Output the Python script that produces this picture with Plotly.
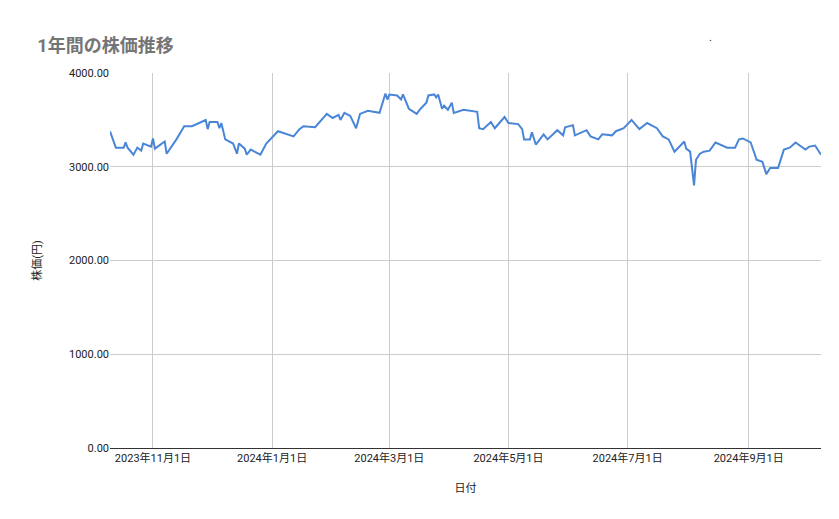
import pandas as pd
import plotly.graph_objects as go

start_date = "2023-10-10"
day_offsets = [0,2,3,7,8,9,12,14,16,17,21,22,23,28,29,34,36,38,42,49,50,51,55,56,57,59,63,65,66,69,70,72,77,80,86,94,97,99,105,111,114,117,118,120,123,126,128,132,138,141,142,143,147,149,150,153,157,159,162,163,166,167,168,170,171,173,175,176,181,188,189,191,195,197,202,204,209,211,212,215,216,218,222,224,229,232,233,237,238,244,246,250,252,257,259,263,265,267,271,275,280,283,286,289,294,295,297,299,300,302,304,307,310,314,316,320,322,324,328,330,331,334,336,338,342,345,348,351,356,358,361,364]
prices = [3379,3259,3204,3204,3259,3204,3128,3204,3172,3248,3215,3302,3193,3270,3139,3292,3357,3433,3433,3499,3401,3477,3477,3411,3466,3292,3248,3139,3248,3193,3128,3183,3128,3248,3379,3324,3401,3433,3422,3564,3520,3553,3499,3575,3542,3411,3564,3597,3575,3782,3717,3771,3760,3717,3771,3619,3564,3619,3684,3760,3771,3739,3771,3619,3651,3608,3684,3575,3608,3586,3411,3401,3477,3411,3531,3466,3455,3401,3292,3292,3368,3237,3346,3292,3390,3335,3422,3444,3335,3390,3324,3292,3346,3335,3379,3411,3455,3499,3401,3466,3411,3324,3292,3161,3270,3193,3161,2801,3074,3139,3161,3172,3259,3226,3204,3204,3292,3302,3259,3139,3074,3052,2921,2986,2986,3183,3204,3259,3183,3215,3226,3128]
y_ticks = [0, 1000, 2000, 3000, 4000]

dates = pd.Timestamp(start_date) + pd.to_timedelta(day_offsets, unit="D")

fig = go.Figure(go.Scatter(x=dates, y=prices, mode="lines",
                           line=dict(color="#4a86d8", width=2)))
fig.update_layout(
    width=839, height=519, plot_bgcolor="white", paper_bgcolor="white",
    margin=dict(l=102, r=26, t=65, b=79),
    font=dict(family="Roboto, Noto Sans CJK JP", color="#222", size=11),
    title=dict(text="<b>1年間の株価推移</b>", x=0.035, xanchor="left", y=0.927, yanchor="middle",
               font=dict(size=18, color="#757575", family="Roboto, Noto Sans CJK JP")),
    showlegend=False,
)
fig.update_xaxes(range=[dates[0], dates[-1]], tickformat="%Y年%-m月%-d日", dtick="M2",
                 tick0="2023-11-01", showgrid=True, gridcolor="#cccccc", showline=True,
                 linecolor="#333", ticks="", title=dict(text="日付", standoff=20, font=dict(size=11)))
fig.update_yaxes(range=[0, 4000], tickvals=y_ticks, tickformat=".2f", showgrid=True,
                 gridcolor="#cccccc", zeroline=False, ticks="", ticksuffix=" ",
                 title=dict(text="株価(円)", standoff=25, font=dict(size=11)))
fig.add_annotation(text=".", xref="paper", yref="paper", showarrow=False,
                   xanchor="center", yanchor="middle",
                   x=(704-110)/703, y=(440-38)/367)
fig.write_html("out.html")
